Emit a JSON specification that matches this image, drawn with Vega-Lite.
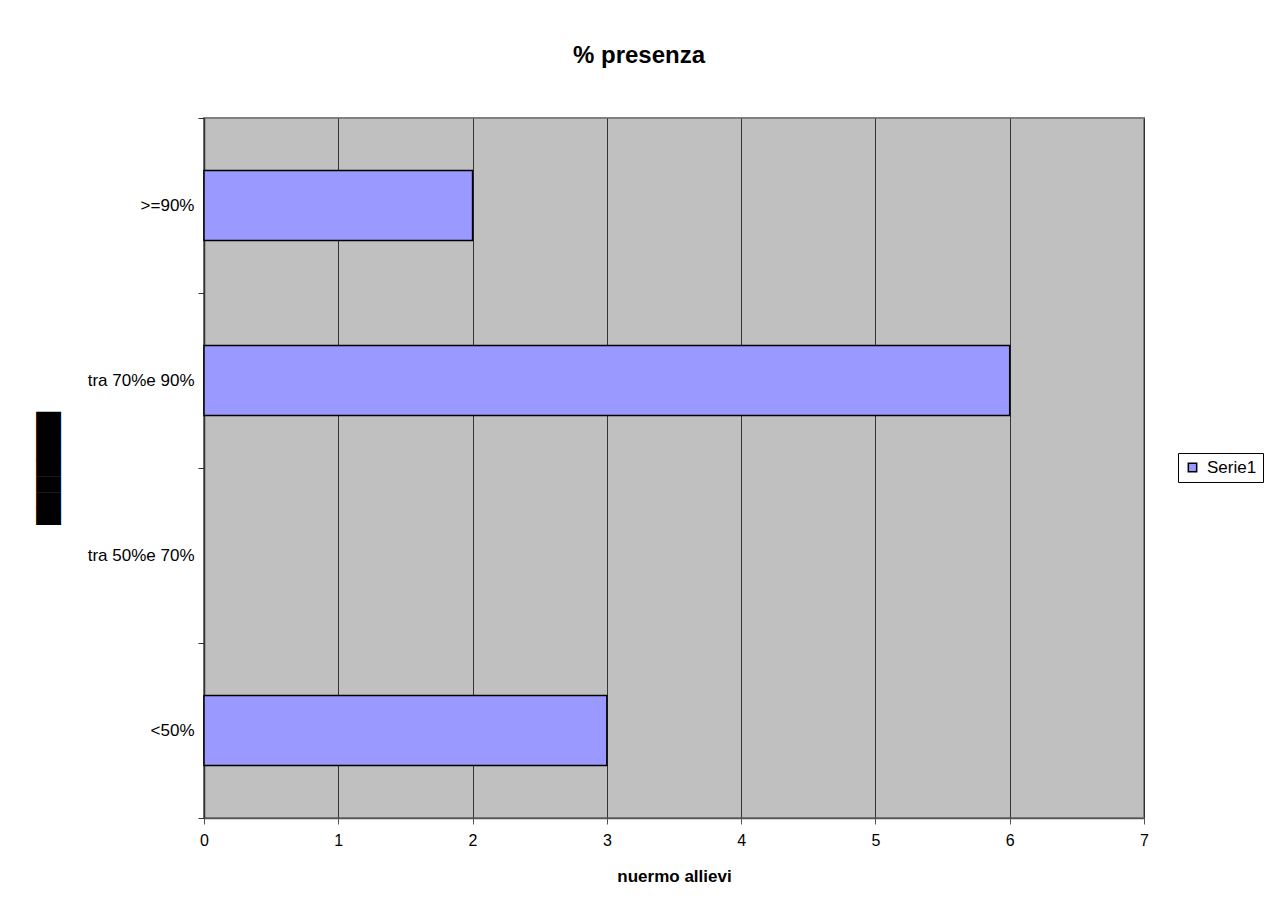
{
  "$schema": "https://vega.github.io/schema/vega-lite/v6.json",
  "autosize": "none",
  "width": 940,
  "height": 700,
  "padding": {"left": 204, "top": 118, "right": 128, "bottom": 98},
  "background": "white",
  "title": {
    "text": "% presenza",
    "anchor": "middle",
    "frame": "group",
    "dx": -35,
    "offset": 22,
    "baseline": "alphabetic",
    "font": "Liberation Sans",
    "fontSize": 24,
    "fontWeight": "bold",
    "color": "black"
  },
  "data": {
    "values": [
      {"fascia": ">=90%", "allievi": 2, "serie": "Serie1"},
      {"fascia": "tra 70%e 90%", "allievi": 6, "serie": "Serie1"},
      {"fascia": "tra 50%e 70%", "allievi": 0, "serie": "Serie1"},
      {"fascia": "<50%", "allievi": 3, "serie": "Serie1"}
    ]
  },
  "transform": [{"filter": "datum.allievi > 0"}],
  "mark": {"type": "bar", "stroke": "black", "strokeWidth": 1.5, "opacity": 1, "height": {"band": 0.4}},
  "encoding": {
    "y": {
      "field": "fascia",
      "type": "nominal",
      "scale": {"domain": [">=90%", "tra 70%e 90%", "tra 50%e 70%", "<50%"], "paddingInner": 0, "paddingOuter": 0},
      "axis": {
        "title": "███████",
        "titleFont": "DejaVu Sans",
        "titleFontSize": 21,
        "titleFontWeight": "normal",
        "titleColor": "black",
        "titleAngle": -90,
        "titleX": -155,
        "titleY": 350,
        "titleAlign": "center",
        "titleBaseline": "middle",
        "tickBand": "extent",
        "tickSize": 6,
        "tickColor": "#333333",
        "domainColor": "#333333",
        "domainWidth": 1.5,
        "labelPadding": 4,
        "labelFont": "Liberation Sans",
        "labelFontSize": 17,
        "labelColor": "black",
        "grid": false
      }
    },
    "x": {
      "field": "allievi",
      "type": "quantitative",
      "scale": {"domain": [0, 7], "nice": false},
      "axis": {
        "title": "nuermo allievi",
        "titleFont": "Liberation Sans",
        "titleFontSize": 17,
        "titleFontWeight": "bold",
        "titleColor": "black",
        "titlePadding": 20,
        "values": [0, 1, 2, 3, 4, 5, 6, 7],
        "format": "d",
        "tickSize": 6,
        "tickColor": "#555555",
        "domainColor": "#555555",
        "domainWidth": 1.5,
        "labelPadding": 8,
        "labelFont": "Liberation Sans",
        "labelFontSize": 16,
        "labelColor": "black",
        "labelFlush": false,
        "grid": true,
        "gridColor": "#333333",
        "gridWidth": 1,
        "gridOpacity": 1
      }
    },
    "color": {
      "field": "serie",
      "type": "nominal",
      "scale": {"range": ["#9999FF"]},
      "legend": {
        "title": null,
        "orient": "none",
        "legendX": 974,
        "legendY": 335,
        "strokeColor": "black",
        "fillColor": "white",
        "padding": 6,
        "symbolType": "square",
        "symbolSize": 70,
        "symbolStrokeColor": "black",
        "symbolStrokeWidth": 1.5,
        "symbolOpacity": 1,
        "labelFont": "Liberation Sans",
        "labelFontSize": 17,
        "labelColor": "black",
        "labelOffset": 6
      }
    }
  },
  "config": {
    "view": {"fill": "#C0C0C0", "stroke": "#808080", "strokeWidth": 2},
    "font": "Liberation Sans"
  }
}
